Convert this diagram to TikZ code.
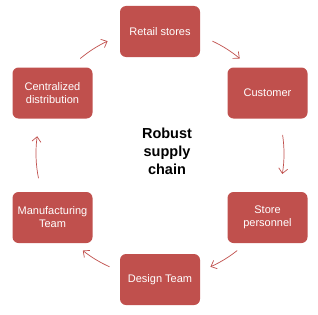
\documentclass[tikz,border=0pt]{standalone}
\usepackage{fontspec}
\setmainfont{Liberation Sans}
\usetikzlibrary{arrows.meta}
\definecolor{boxred}{HTML}{C0504D}
\tikzset{
  stagebox/.style={fill=boxred, draw=none, rounded corners=6pt, minimum width=80pt, minimum height=51pt,
    text=white, align=center, inner sep=1pt, font=\fontsize{11}{13}\selectfont},
  cyclearrow/.style={draw=boxred, line width=0.7pt, -{Straight Barb[length=5pt,width=9pt]}},
  hub/.style={font=\fontsize{14.5}{18}\selectfont\bfseries, align=center, text=black}
}
\begin{document}
\begin{tikzpicture}[x=1pt,y=1pt]
\useasboundingbox (0,0) rectangle (318,314);
\node[stagebox] (retail) at (160,282.5) {Retail stores};
\node[stagebox] (customer) at (267.5,221) {Customer};
\node[stagebox] (store) at (267.5,96.5) {Store\\personnel};
\node[stagebox] (design) at (160,34.5) {Design Team};
\node[stagebox] (manu) at (52.5,96.5) {Manufacturing\\Team};
\node[stagebox] (central) at (52.5,221) {Centralized\\distribution};
\node[hub] (hubtext) at (167,163) {Robust\\supply\\chain};
\coordinate (c) at (160,160.5);
\draw[cyclearrow] ([shift={(65:124pt)}]c) arc[start angle=65, end angle=50, radius=124pt];
\draw[cyclearrow] ([shift={(8.6:124pt)}]c) arc[start angle=8.6, end angle=-9.5, radius=124pt];
\draw[cyclearrow] ([shift={(-51.5:124pt)}]c) arc[start angle=-51.5, end angle=-66, radius=124pt];
\draw[cyclearrow] ([shift={(-114:124pt)}]c) arc[start angle=-114, end angle=-128.5, radius=124pt];
\draw[cyclearrow] ([shift={(191.5:124pt)}]c) arc[start angle=191.5, end angle=172, radius=124pt];
\draw[cyclearrow] ([shift={(130:124pt)}]c) arc[start angle=130, end angle=115, radius=124pt];
\end{tikzpicture}
\end{document}
